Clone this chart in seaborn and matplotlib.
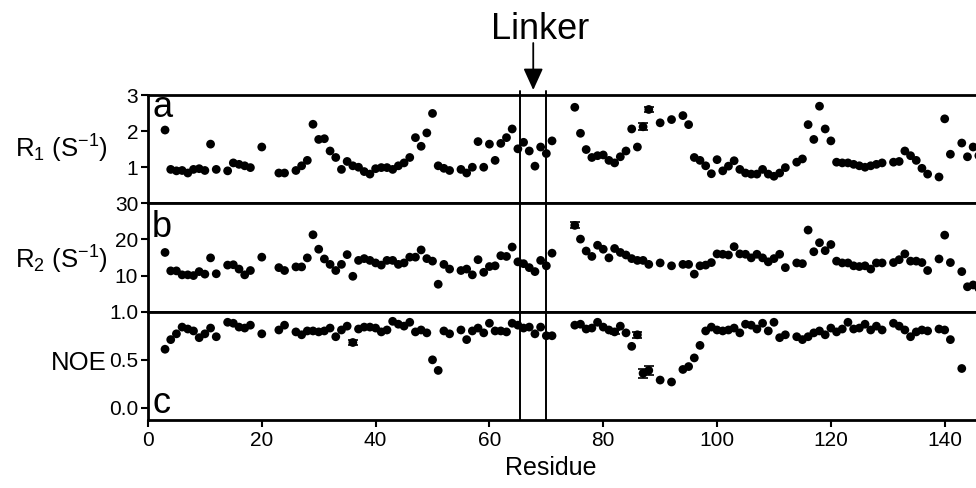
import numpy as np
import pandas as pd
import seaborn as sns
import matplotlib.pyplot as plt
from matplotlib.ticker import FormatStrFormatter

# --- 1. Data ---

residues = [3, 4, 5, 6, 7, 8, 9, 10, 11, 12, 14, 15, 16, 17, 18, 20, 23, 24,
            26, 27, 28, 29, 30, 31, 32, 33, 34, 35, 36, 37, 38, 39, 40, 41, 42,
            43, 44, 45, 46, 47, 48, 49, 50, 51, 52, 53, 55, 56, 57, 58, 59, 60,
            61, 62, 63, 64, 65, 66, 67, 68, 69, 70, 71, 75, 76, 77, 78, 79, 80,
            81, 82, 83, 84, 85, 86, 87, 88, 90, 92, 94, 95, 96, 97, 98, 99, 100,
            101, 102, 103, 104, 105, 106, 107, 108, 109, 110, 111, 112, 114, 115,
            116, 117, 118, 119, 120, 121, 122, 123, 124, 125, 126, 127, 128, 129,
            131, 132, 133, 134, 135, 136, 137, 139, 140, 141, 143, 144, 145, 146]

r1 = [2.03, 0.94, 0.90, 0.91, 0.84, 0.94, 0.96, 0.91, 1.64, 0.94, 0.90, 1.12,
      1.08, 1.04, 0.99, 1.56, 0.84, 0.84, 0.91, 1.04, 1.19, 2.19, 1.77, 1.79,
      1.45, 1.27, 0.94, 1.16, 1.04, 1.00, 0.88, 0.81, 0.96, 0.99, 0.99, 0.94,
      1.04, 1.12, 1.27, 1.82, 1.58, 1.95, 2.49, 1.04, 0.97, 0.91, 0.94, 0.84,
      1.00, 1.71, 1.00, 1.64, 1.19, 1.66, 1.82, 2.06, 1.51, 1.69, 1.45, 1.03,
      1.56, 1.38, 1.73, 2.66, 1.94, 1.49, 1.27, 1.32, 1.34, 1.19, 1.12, 1.29,
      1.45, 2.06, 1.56, 2.12, 2.60, 2.23, 2.32, 2.43, 2.18, 1.27, 1.19, 1.04,
      0.82, 1.21, 0.90, 1.03, 1.18, 0.94, 0.84, 0.81, 0.81, 0.94, 0.81, 0.75,
      0.84, 0.99, 1.14, 1.23, 2.18, 1.77, 2.69, 2.06, 1.73, 1.14, 1.12, 1.12,
      1.08, 1.04, 1.00, 1.04, 1.08, 1.12, 1.14, 1.16, 1.45, 1.32, 1.19, 0.97,
      0.81, 0.73, 2.34, 1.36, 1.67, 1.29, 1.56, 1.32]

r2 = [16.4, 11.3, 11.3, 10.2, 10.2, 10.0, 11.1, 10.4, 14.9, 10.5, 12.9, 13.0,
      11.8, 10.2, 11.4, 15.1, 12.2, 11.4, 12.4, 12.4, 14.9, 21.3, 17.3, 14.6,
      13.1, 11.4, 13.1, 15.8, 9.8, 14.2, 14.7, 14.2, 13.5, 12.9, 14.2, 14.2,
      13.1, 13.5, 15.1, 15.1, 17.1, 14.7, 14.0, 7.6, 13.1, 11.8, 11.4, 11.8,
      10.2, 14.4, 10.9, 12.5, 12.7, 15.5, 15.3, 17.9, 13.8, 13.3, 12.2, 11.1,
      14.2, 12.7, 16.2, 23.9, 20.1, 16.8, 15.3, 18.4, 17.3, 14.9, 17.5, 16.4,
      15.7, 14.7, 14.2, 14.2, 13.1, 13.5, 12.7, 13.1, 13.1, 10.4, 12.7, 12.9,
      13.6, 16.0, 15.9, 15.7, 18.0, 16.0, 15.9, 14.9, 15.9, 14.9, 13.8, 14.7,
      15.9, 12.2, 13.5, 13.3, 22.6, 16.6, 19.1, 16.9, 18.6, 14.0, 13.5, 13.5,
      12.7, 12.5, 12.7, 11.8, 13.5, 13.5, 13.6, 14.4, 16.0, 14.0, 14.0, 13.6,
      11.4, 14.6, 21.2, 13.6, 11.1, 6.9, 7.4, 6.5]

noe = [0.61, 0.71, 0.77, 0.84, 0.82, 0.80, 0.73, 0.77, 0.83, 0.74, 0.89, 0.88,
       0.84, 0.83, 0.86, 0.77, 0.81, 0.86, 0.79, 0.76, 0.80, 0.80, 0.79, 0.80,
       0.83, 0.74, 0.81, 0.85, 0.68, 0.82, 0.84, 0.84, 0.83, 0.79, 0.81, 0.90,
       0.87, 0.85, 0.89, 0.79, 0.81, 0.78, 0.50, 0.39, 0.80, 0.77, 0.81, 0.71,
       0.80, 0.83, 0.78, 0.88, 0.80, 0.80, 0.79, 0.88, 0.86, 0.83, 0.84, 0.77,
       0.84, 0.75, 0.75, 0.86, 0.87, 0.82, 0.83, 0.89, 0.84, 0.81, 0.79, 0.85,
       0.78, 0.64, 0.76, 0.36, 0.39, 0.29, 0.27, 0.40, 0.43, 0.52, 0.65, 0.80,
       0.84, 0.81, 0.80, 0.81, 0.83, 0.78, 0.87, 0.86, 0.82, 0.88, 0.80, 0.89,
       0.73, 0.76, 0.74, 0.71, 0.74, 0.78, 0.80, 0.76, 0.83, 0.79, 0.82, 0.89,
       0.82, 0.83, 0.87, 0.81, 0.85, 0.81, 0.88, 0.85, 0.81, 0.74, 0.79, 0.81,
       0.80, 0.82, 0.81, 0.71, 0.41, np.nan, np.nan, np.nan]

# the few points that carry visible error bars
r1_err_res = [87, 88]
r1_err = [0.10, 0.08]
r2_err_res = [75]
r2_err = [0.8]
noe_err_res = [36, 82, 86, 87, 88]
noe_err = [0.03, 0.02, 0.03, 0.05, 0.05]

linker = [65.3, 70]

df = pd.DataFrame({"Residue": residues, "R1": r1, "R2": r2, "NOE": noe})

# --- 2. Style ---

sns.set_theme(style="ticks")
plt.rcParams["font.family"] = ["Liberation Sans", "DejaVu Sans"]
plt.rcParams["mathtext.fontset"] = "custom"
plt.rcParams["mathtext.rm"] = "Liberation Sans"
plt.rcParams["mathtext.it"] = "Liberation Sans:italic"
plt.rcParams["text.color"] = "black"
plt.rcParams["axes.labelcolor"] = "black"

fig, axes = plt.subplots(3, 1, sharex=True, figsize=(9.76, 4.88), dpi=100)
fig.subplots_adjust(left=0.1516, right=1.0, top=0.8053, bottom=0.1393, hspace=0)

panels = [
    ("R1", r"R$_1$ (S$^{-1}$)", (0, 3), [1, 2, 3], "a", 0.80, (-0.1045, 0.50),
     r1_err_res, r1_err),
    ("R2", r"R$_2$ (S$^{-1}$)", (0, 30), [10, 20, 30], "b", 0.69, (-0.1045, 0.48),
     r2_err_res, r2_err),
    ("NOE", "NOE", (-0.125, 1.0), [0.0, 0.5, 1.0], "c", 0.065, (-0.084, 0.53),
     noe_err_res, noe_err),
]

# --- 3. Panels ---

for i, (ax, (col, label, ylim, yticks, letter, ybase, lab_xy, err_res, err)) in enumerate(zip(axes, panels)):
    sns.scatterplot(data=df, x="Residue", y=col, ax=ax, color="black",
                    s=40, edgecolor="none", zorder=3)

    sub = df.set_index("Residue").loc[err_res, col]
    ax.errorbar(err_res, sub.values, yerr=err, fmt="none", ecolor="black",
                elinewidth=1.2, capsize=3.5, capthick=1.2, zorder=3)

    for xl in linker:
        ax.axvline(xl, color="black", lw=1.4, zorder=2,
                   ymax=1.04 if i == 0 else 1.0, clip_on=(i != 0))

    ax.set_ylim(*ylim)
    ax.set_yticks(yticks)
    ax.set_xlim(0, 145.5)

    ax.set_ylabel(label, fontsize=18.5, rotation=0, ha="center", va="center")
    ax.yaxis.set_label_coords(*lab_xy)

    ax.text(0.005, ybase, letter, transform=ax.transAxes, fontsize=26,
            ha="left", va="baseline")

    ax.spines["right"].set_visible(False)
    for side in ["top", "bottom", "left"]:
        ax.spines[side].set_linewidth(2.0)
        ax.spines[side].set_color("black")

    ax.tick_params(axis="y", direction="out", length=5, width=1.5,
                   labelsize=15, pad=2, colors="black")
    if i < 2:
        ax.tick_params(axis="x", bottom=False, labelbottom=False)
        ax.set_xlabel("")

axes[2].yaxis.set_major_formatter(FormatStrFormatter("%.1f"))
axes[2].set_xticks([0, 20, 40, 60, 80, 100, 120, 140])
axes[2].tick_params(axis="x", direction="out", length=5, width=1.5,
                    labelsize=15, pad=3, colors="black")
axes[2].set_xlabel("Residue", fontsize=18, ha="center", va="center")
axes[2].xaxis.set_label_coords(0.487, -0.444)

# linker arrow and caption
axes[0].annotate("", xy=(67.7, 1.046), xytext=(67.7, 1.48),
                 xycoords=("data", "axes fraction"),
                 textcoords=("data", "axes fraction"),
                 arrowprops=dict(arrowstyle="-|>,head_length=1.1,head_width=0.5",
                                 color="black", lw=1.3, shrinkA=0, shrinkB=0))
fig.text(0.5537, 0.92, "Linker", fontsize=26, ha="center", va="baseline")

plt.savefig("out.png", dpi=100)
